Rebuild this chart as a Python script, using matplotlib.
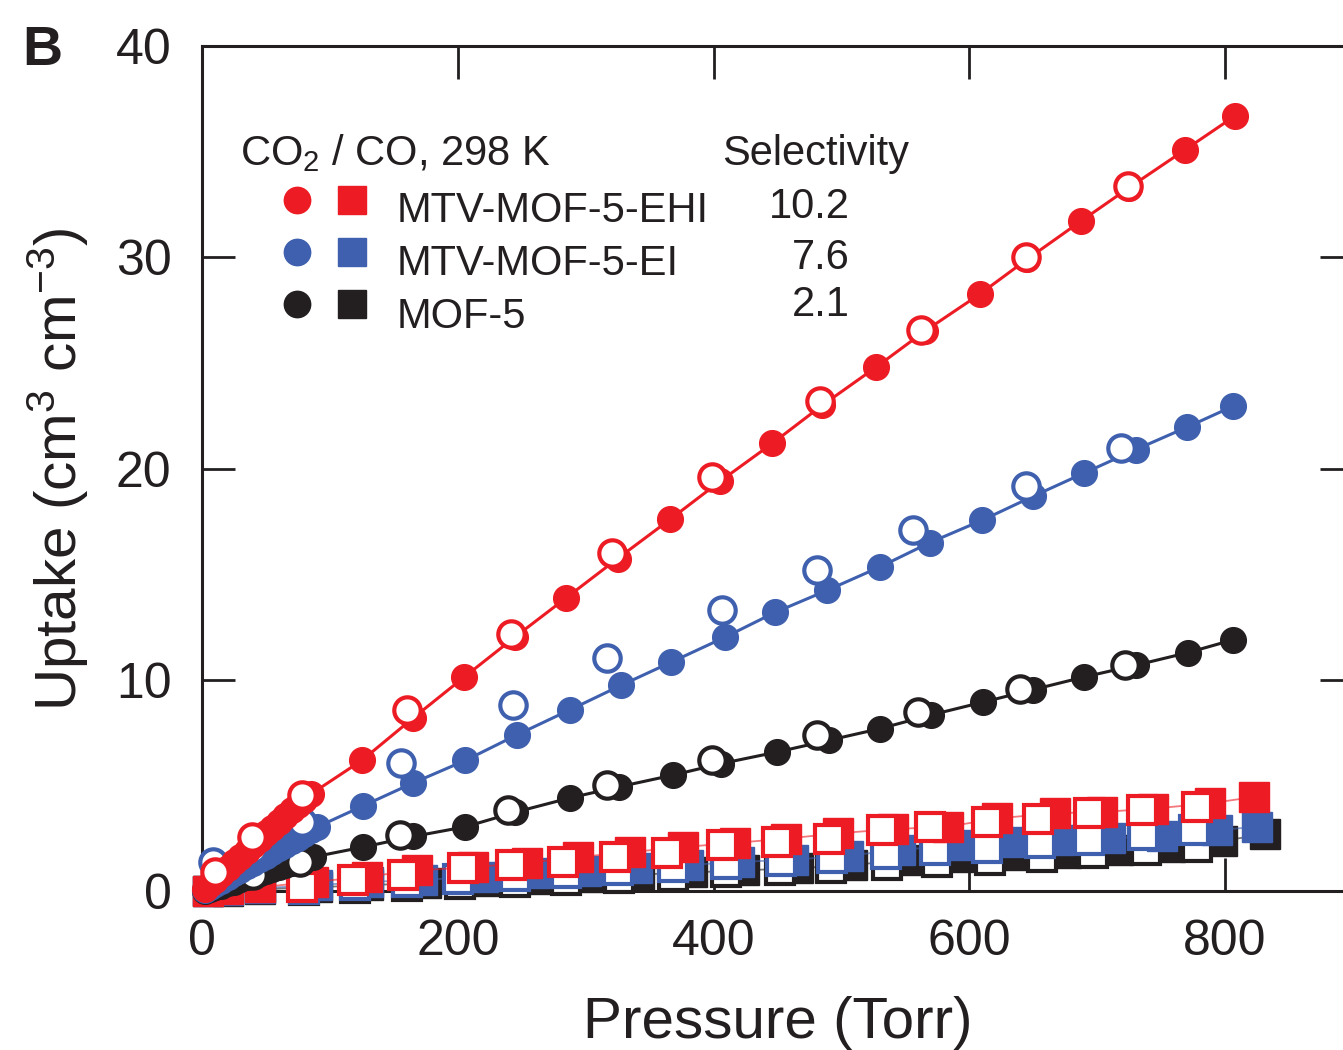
import matplotlib
matplotlib.use("Agg")
import matplotlib.pyplot as plt

plt.rcParams['font.family'] = ['Liberation Sans', 'DejaVu Sans']
plt.rcParams['mathtext.fontset'] = 'custom'
plt.rcParams['mathtext.rm'] = 'Liberation Sans'
plt.rcParams['mathtext.it'] = 'Liberation Sans:italic'
plt.rcParams['mathtext.bf'] = 'Liberation Sans:bold'

RED = '#ED1C24'
BLUE = '#3F60AE'
BLACK = '#231F20'

# ---------------- data (Torr, cm3 cm-3) ----------------
# CO2 adsorption (filled circles)
ehi_co2_ads_p = [2, 6, 10, 15, 20, 25, 30, 35, 40, 45, 50, 55, 60, 65, 70, 75, 80, 85,
                 125, 165, 205, 245, 285, 325, 366, 405, 446, 485, 527, 565, 608, 645,
                 687, 725, 769, 808]
ehi_co2_ads_u = [0.1, 0.33, 0.55, 0.82, 1.1, 1.37, 1.65, 1.92, 2.2, 2.47, 2.75, 3.0, 3.3,
                 3.55, 3.85, 4.1, 4.35, 4.6, 6.2, 8.2, 10.14, 12.05, 13.9, 15.75, 17.6,
                 19.4, 21.2, 23.0, 24.8, 26.5, 28.25, 29.9, 31.7, 33.3, 35.1, 36.7]
# CO2 desorption (open circles)
ehi_co2_des_p = [10, 39, 78, 160, 242, 321, 399, 483, 562, 644, 724]
ehi_co2_des_u = [0.92, 2.58, 4.56, 8.6, 12.2, 16.0, 19.6, 23.2, 26.55, 30.0, 33.36]

ei_co2_ads_p = [2, 6, 10, 15, 20, 25, 30, 35, 40, 45, 50, 55, 60, 65, 70, 75, 80, 85, 90,
                126, 165, 206, 246, 288, 328, 367, 409, 448, 489, 530, 569, 610, 650,
                690, 730, 770, 806]
ei_co2_ads_u = [0.07, 0.2, 0.34, 0.51, 0.68, 0.85, 1.02, 1.19, 1.36, 1.53, 1.7, 1.87,
                2.04, 2.21, 2.38, 2.55, 2.72, 2.89, 3.05, 4.05, 5.13, 6.2, 7.4, 8.6, 9.76,
                10.85, 12.03, 13.2, 14.25, 15.35, 16.5, 17.56, 18.7, 19.8, 20.9, 21.96,
                22.95]
ei_co2_des_p = [9, 40, 78, 156, 243, 317, 407, 481, 556, 644, 719]
ei_co2_des_u = [1.4, 2.0, 3.3, 6.1, 8.8, 11.04, 13.3, 15.2, 17.1, 19.2, 21.0]

mof_co2_ads_p = [2, 6, 10, 15, 20, 25, 30, 35, 40, 45, 50, 55, 60, 65, 70, 75, 80, 87,
                 126, 165, 206, 245, 288, 326, 368, 406, 450, 490, 530, 570, 611, 650,
                 690, 730, 771, 806]
mof_co2_ads_u = [0.04, 0.11, 0.19, 0.28, 0.38, 0.47, 0.57, 0.66, 0.76, 0.85, 0.95, 1.04,
                 1.14, 1.23, 1.33, 1.42, 1.52, 1.63, 2.1, 2.6, 3.06, 3.75, 4.43, 4.95,
                 5.5, 6.05, 6.6, 7.15, 7.7, 8.35, 8.96, 9.55, 10.15, 10.7, 11.3, 11.9]
mof_co2_des_p = [10, 40, 77, 155, 239, 317, 399, 481, 560, 640, 722]
mof_co2_des_u = [0.3, 0.8, 1.4, 2.67, 3.85, 5.04, 6.2, 7.4, 8.5, 9.6, 10.7]

# CO adsorption (filled squares) / desorption (open squares)
ehi_co_ads_p = [5, 20, 45, 87, 129, 168, 212, 254, 294, 335, 376, 417, 457, 497, 540,
                583, 622, 667, 704, 744, 788, 823]
ehi_co_ads_u = [0.0, 0.1, 0.2, 0.45, 0.7, 1.0, 1.15, 1.35, 1.63, 1.86, 2.1, 2.3, 2.5,
                2.75, 2.95, 3.06, 3.46, 3.7, 3.76, 3.92, 4.17, 4.47]
ehi_co_des_p = [78, 118, 157, 204, 242, 282, 323, 364, 407, 450, 490, 532, 569, 614,
                654, 694, 735, 778]
ehi_co_des_u = [0.2, 0.55, 0.8, 1.12, 1.25, 1.4, 1.63, 1.82, 2.2, 2.35, 2.5, 2.9, 3.05,
                3.3, 3.45, 3.7, 3.86, 4.0]

ei_co_ads_p = [5, 20, 45, 90, 130, 172, 220, 260, 300, 340, 380, 420, 462, 505, 546,
               591, 630, 669, 710, 751, 794, 825]
ei_co_ads_u = [0.0, 0.05, 0.15, 0.3, 0.45, 0.55, 0.7, 0.85, 0.95, 1.1, 1.25, 1.4, 1.5,
               1.7, 1.96, 2.2, 2.34, 2.44, 2.53, 2.6, 2.9, 3.06]
ei_co_des_p = [80, 120, 160, 200, 245, 285, 325, 368, 410, 453, 493, 535, 573, 614, 655,
               694, 736, 776]
ei_co_des_u = [0.1, 0.3, 0.45, 0.6, 0.75, 0.85, 1.0, 1.15, 1.3, 1.45, 1.6, 1.75, 1.96,
               2.06, 2.3, 2.44, 2.67, 2.9]

mof_co_ads_p = [5, 20, 45, 90, 130, 175, 222, 262, 302, 342, 383, 424, 466, 508, 552,
                591, 633, 676, 716, 757, 798, 831]
mof_co_ads_u = [0.0, 0.03, 0.1, 0.2, 0.3, 0.4, 0.5, 0.6, 0.7, 0.8, 0.9, 1.0, 1.1, 1.25,
                1.5, 1.63, 1.72, 1.82, 1.96, 2.1, 2.4, 2.7]
mof_co_des_p = [80, 120, 160, 202, 245, 285, 326, 368, 410, 452, 492, 536, 575, 616,
                657, 697, 738, 778]
mof_co_des_u = [0.05, 0.15, 0.25, 0.35, 0.45, 0.55, 0.65, 0.75, 0.9, 1.0, 1.1, 1.25,
                1.4, 1.5, 1.65, 1.8, 1.95, 2.1]

names = ['MTV-MOF-5-EHI', 'MTV-MOF-5-EI', 'MOF-5']
selectivity = ['10.2', '7.6', '2.1']
colors = [RED, BLUE, BLACK]

xticks = [0, 200, 400, 600, 800]
yticks = [0, 10, 20, 30, 40]

# ---------------- figure ----------------
fig = plt.figure(figsize=(13.43, 10.5), dpi=100)
ax = fig.add_axes([0.1504, 0.151, 0.857, 0.8052])
ax.set_xlim(0, 900)
ax.set_ylim(0, 40)

ms_c = 18.5
ms_s = 21
mew = 3.0

co_sets = [
    (mof_co_ads_p, mof_co_ads_u, mof_co_des_p, mof_co_des_u, BLACK),
    (ei_co_ads_p, ei_co_ads_u, ei_co_des_p, ei_co_des_u, BLUE),
    (ehi_co_ads_p, ehi_co_ads_u, ehi_co_des_p, ehi_co_des_u, RED),
]
z = 3
for ap, au, dp, du, c in co_sets:
    ax.plot(ap, au, '-', color=c, lw=1.3, alpha=0.6, zorder=z)
    ax.plot(ap, au, 's', color=c, ms=ms_s, mec=c, zorder=z + 0.1, clip_on=False)
    ax.plot(dp, du, 's', mfc='white', mec=c, mew=mew, ms=ms_s - 1, zorder=z + 0.2,
            clip_on=False)
    z += 1

co2_sets = [
    (mof_co2_ads_p, mof_co2_ads_u, mof_co2_des_p, mof_co2_des_u, BLACK),
    (ei_co2_ads_p, ei_co2_ads_u, ei_co2_des_p, ei_co2_des_u, BLUE),
    (ehi_co2_ads_p, ehi_co2_ads_u, ehi_co2_des_p, ehi_co2_des_u, RED),
]
for ap, au, dp, du, c in co2_sets:
    ax.plot([0] + ap, [0] + au, '-', color=c, lw=2.2, zorder=z)
    ax.plot(ap, au, 'o', color=c, ms=ms_c, mec=c, zorder=z + 0.1, clip_on=False)
    ax.plot(dp, du, 'o', mfc='white', mec=c, mew=mew, ms=ms_c + 0.5, zorder=z + 0.2,
            clip_on=False)
    z += 1

# axes styling
for s in ax.spines.values():
    s.set_linewidth(2.2)
    s.set_color(BLACK)
ax.set_xticks(xticks)
ax.set_yticks(yticks)
ax.tick_params(direction='in', length=24, width=2.0, top=True, right=True,
               labelsize=36, colors=BLACK)
ax.tick_params(axis='y', pad=22)
ax.tick_params(axis='x', pad=20)
ax.set_xlabel('Pressure (Torr)', fontsize=42, labelpad=22, color=BLACK)
ax.set_ylabel('Uptake (cm$^{3}$ cm$^{-3}$)', fontsize=42, labelpad=18, color=BLACK)

# legend (manual, axes fraction)
tr = ax.transAxes
fs = 30
ax.text(0.033, 0.859, 'CO$_2$ / CO, 298 K', transform=tr, fontsize=fs,
        ha='left', va='baseline', color=BLACK)
ax.text(0.452, 0.859, 'Selectivity', transform=tr, fontsize=fs,
        ha='left', va='baseline', color=BLACK)
leg_y_marker = [0.818, 0.756, 0.695]
leg_y_text = [0.792, 0.729, 0.667]
leg_y_num = [0.796, 0.736, 0.681]
for i in range(3):
    ax.plot([0.0825], [leg_y_marker[i]], 'o', color=colors[i], ms=19, transform=tr,
            clip_on=False, zorder=20)
    ax.plot([0.130], [leg_y_marker[i]], 's', color=colors[i], ms=20, transform=tr,
            clip_on=False, zorder=20)
    ax.text(0.169, leg_y_text[i], names[i], transform=tr, fontsize=fs,
            ha='left', va='baseline', color=BLACK)
    ax.text(0.563, leg_y_num[i], selectivity[i], transform=tr, fontsize=fs,
            ha='right', va='baseline', color=BLACK)

fig.text(22 / 1343, 1 - 65 / 1050, 'B', fontsize=40, fontweight='bold',
         ha='left', va='baseline', color=BLACK)

fig.savefig('out.png', dpi=100)
